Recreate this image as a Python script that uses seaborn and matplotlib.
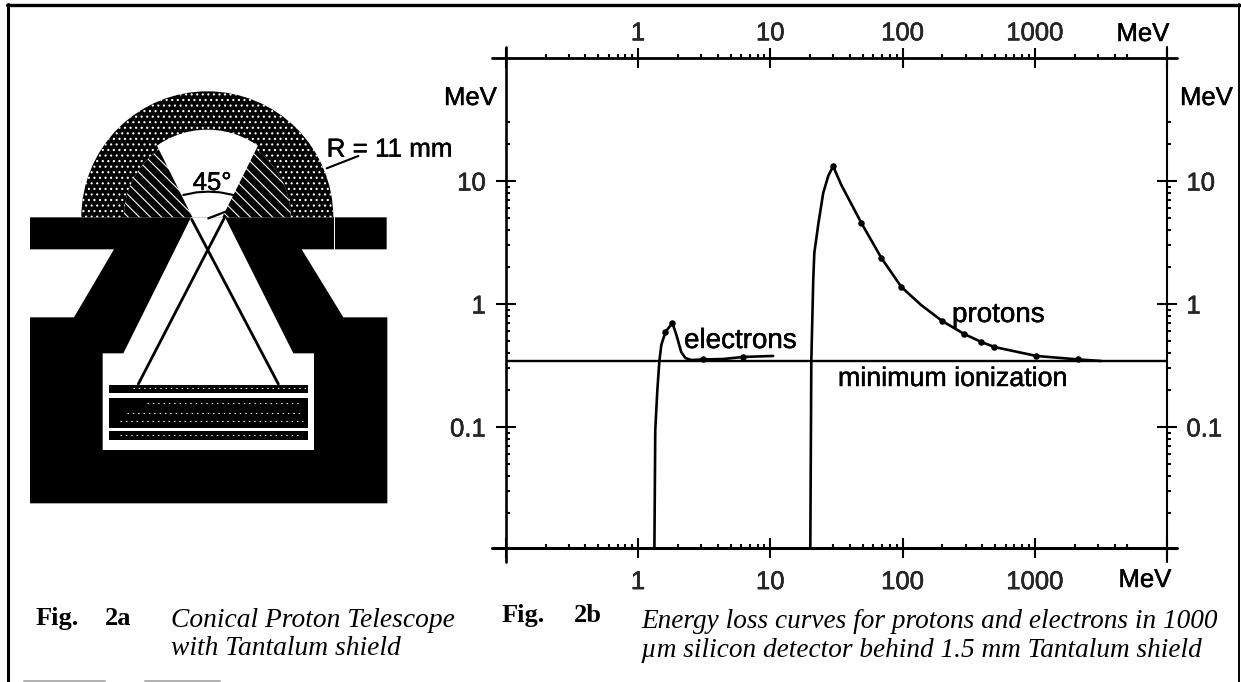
import pandas as pd
import matplotlib
matplotlib.use("Agg")
import matplotlib.pyplot as plt
import matplotlib.patheffects as pe
from matplotlib.patches import Polygon, Wedge
import seaborn as sns

# curve readings (MeV, MeV)
proton_energy = [20.05, 20.4, 21.1, 21.5, 23.1, 25.1, 27.4, 29.8, 34.4, 48.8, 69, 97.8, 138, 199, 292, 393, 493, 1025, 2130, 3170]
proton_loss = [0.0105, 0.344, 1.57, 2.6, 4.55, 8.0, 11.0, 13.2, 9.28, 4.55, 2.37, 1.375, 0.98, 0.727, 0.57, 0.491, 0.447, 0.378, 0.354, 0.344]
proton_pts_energy = [29.8, 48.8, 69, 97.8, 199, 292, 393, 493, 1025, 2130]
proton_pts_loss = [13.2, 4.55, 2.37, 1.375, 0.727, 0.57, 0.491, 0.447, 0.378, 0.354]

electron_energy = [1.33, 1.35, 1.40, 1.45, 1.50, 1.61, 1.82, 1.95, 2.12, 2.28, 2.53, 3.12, 4.42, 6.25, 10.5]
electron_loss = [0.0105, 0.0946, 0.2, 0.344, 0.464, 0.592, 0.70, 0.56, 0.407, 0.364, 0.35, 0.354, 0.357, 0.371, 0.378]
electron_pts_energy = [1.61, 1.82, 3.12, 6.25]
electron_pts_loss = [0.592, 0.70, 0.354, 0.371]

min_ionization = 0.344

# axis ticks
x_ticks = [0.1, 1, 10, 100, 1000, 10000]
x_tick_labels = ["", "1", "10", "100", "1000", ""]
x_minor = [m * d for d in (0.1, 1, 10, 100) for m in range(2, 10)] + [2000, 3000, 4000, 5000]
y_ticks = [0.1, 1, 10]
y_tick_labels = ["0.1", "1", "10"]
y_minor = [m * d for d in (0.01, 0.1, 1) for m in range(2, 10)] + [20, 30]

FONT = "Liberation Sans"
SERIF = "Liberation Serif"
TICK_SIZE = 18.5

sns.set_theme(style="white")
plt.rcParams["font.family"] = [FONT, "DejaVu Sans"]
plt.rcParams["hatch.linewidth"] = 0.8

fig = plt.figure(figsize=(12.41, 6.82), dpi=100, facecolor="white")
W, H = 1241, 682


def thick(w=0.35):
    return [pe.withStroke(linewidth=w, foreground="black")]


# --- Fig. 2b, energy loss plot ---
L, R, T, B = 505.7, 1167.3, 57.5, 547.5
ax = fig.add_axes([L / W, 1 - B / H, (R - L) / W, (B - T) / H])
ax.set_xscale("log")
ax.set_yscale("log")

protons = pd.DataFrame({"energy": proton_energy, "loss": proton_loss})
electrons = pd.DataFrame({"energy": electron_energy, "loss": electron_loss})
sns.lineplot(data=protons, x="energy", y="loss", sort=False, estimator=None, color="black", lw=1.9, ax=ax)
sns.lineplot(data=electrons, x="energy", y="loss", sort=False, estimator=None, color="black", lw=1.9, ax=ax)
sns.scatterplot(x=proton_pts_energy, y=proton_pts_loss, color="black", s=22, linewidth=0, ax=ax)
sns.scatterplot(x=electron_pts_energy, y=electron_pts_loss, color="black", s=22, linewidth=0, ax=ax)
ax.axhline(min_ionization, color="black", lw=1.7)

ax.set_xlim(0.1, 10000)
ax.set_ylim(0.01047, 101)
ax.set_xlabel("")
ax.set_ylabel("")

top = ax.twiny()
top.set_xscale("log")
top.set_xlim(ax.get_xlim())
right = ax.twinx()
right.set_yscale("log")
right.set_ylim(ax.get_ylim())

for axis, ticks, labels, minor in [
    (ax.xaxis, x_ticks, x_tick_labels, x_minor),
    (top.xaxis, x_ticks, x_tick_labels, x_minor),
    (ax.yaxis, y_ticks, y_tick_labels, y_minor),
    (right.yaxis, y_ticks, y_tick_labels, y_minor),
]:
    axis.set_ticks(ticks)
    axis.set_ticklabels(labels)
    axis.set_ticks(minor, minor=True)
    axis.set_ticklabels([], minor=True)

# minor ticks all point up / right, so inward on one side and outward on the other
ax.tick_params(which="major", direction="inout", length=14.5, width=1.5, labelsize=TICK_SIZE, color="black")
ax.tick_params(which="minor", direction="in", length=3, width=1.5, left=True, bottom=True, color="black")
ax.tick_params(axis="x", which="major", pad=9)
ax.tick_params(axis="y", which="major", pad=7)
top.tick_params(which="major", direction="inout", length=14.5, width=1.5, labelsize=TICK_SIZE, pad=1.5, color="black")
top.tick_params(which="minor", direction="out", length=3, width=1.5, top=True, color="black")
right.tick_params(which="major", direction="inout", length=14.5, width=1.5, labelsize=TICK_SIZE, pad=6.5, color="black")
right.tick_params(which="minor", direction="out", length=3, width=1.5, right=True, color="black")
for a in (ax, top, right):
    for s in a.spines.values():
        s.set_visible(False)
    for lab in a.get_xticklabels() + a.get_yticklabels():
        lab.set_path_effects(thick())

# --- overlay in picture pixels: frame, schematic, captions ---
ov = fig.add_axes([0, 0, 1, 1], zorder=5)
ov.set_xlim(0, W)
ov.set_ylim(H, 0)
ov.patch.set_alpha(0)
ov.set_axis_off()

# page frame
ov.plot([7, 1241], [4.7, 4.7], color="black", lw=2.4)
ov.plot([8, 8], [4, 682], color="black", lw=2.2)
ov.plot([1238.5, 1238.5], [4, 682], color="black", lw=1.4)
ov.plot([24, 105], [680.5, 680.5], color="#b0b0b0", lw=1.4)
ov.plot([145, 220], [680.5, 680.5], color="#b0b0b0", lw=1.4)

# plot frame, lines run past the corners
ov.plot([492, 1177], [58, 58], color="black", lw=2.0)
ov.plot([492, 1177], [547.5, 547.5], color="black", lw=2.2)
ov.plot([L, L], [47, 562], color="black", lw=1.9)
ov.plot([R, R], [47, 562], color="black", lw=1.5)


def zx(v):
    return v / 3


def zy(v):
    return 60 + v / 3


# schematic outline points
body = [(90, 472), (1160, 472), (1160, 568), (905, 568), (1030, 772), (1162, 772), (1162, 1330),
        (90, 1330), (90, 772), (222, 772), (342, 568), (90, 568)]
cavity = [(573, 472), (675, 472), (880, 880), (942, 880), (942, 1170), (308, 1170), (308, 880), (370, 880)]
sector = [(622, 562), (418, 150), (827, 150)]
detector_rows = [(975, 1000), (1013, 1103), (1113, 1140)]
ring_c = (zx(622), zy(472))


def to_px(points):
    return [(zx(x), zy(y)) for x, y in points]


ov.add_patch(Polygon(to_px(body), closed=True, fc="black", ec="none", zorder=2))
ov.add_patch(Polygon(to_px(cavity), closed=True, fc="white", ec="none", zorder=3))

# y runs downward here, so the upper half is 180..360
ov.add_patch(Wedge(ring_c, 378 / 3, 180, 360, width=128 / 3, fc="black", ec="white", hatch="...", lw=0, zorder=2))
ov.add_patch(Wedge(ring_c, 250 / 3, 180, 360, fc="black", ec="white", hatch="\\\\\\", lw=0, zorder=2))
cone = Polygon(to_px(sector), closed=True, fc="white", ec="none", zorder=3)
ov.add_patch(cone)
cone.set_clip_path(Wedge(ring_c, 263 / 3, 180, 360, transform=ov.transData))

# detector stack
for y0, y1 in detector_rows:
    ov.fill_between([zx(328), zx(925)], zy(y0), zy(y1), color="black", lw=0, zorder=4)
for yy, x0, x1 in [(985, 400, 920), (1030, 440, 900), (1058, 380, 910), (1082, 360, 910), (1126, 360, 900)]:
    ov.plot([zx(x0), zx(x1)], [zy(yy), zy(yy)], color="white", lw=0.7, ls=(0, (1.5, 4)), zorder=5)

# rays crossing in the aperture
ov.plot([zx(575), zx(835)], [zy(478), zy(972)], color="black", lw=2.0, zorder=6)
ov.plot([zx(675), zx(415)], [zy(470), zy(972)], color="black", lw=2.0, zorder=6)
ov.plot([zx(625), zx(690)], [zy(475), zy(450)], color="black", lw=1.6, zorder=6)
ov.plot([zx(1003), zx(1003)], [zy(472), zy(568)], color="white", lw=0.7, zorder=6)
ov.plot([zx(980), zx(1075)], [zy(325), zy(288)], color="black", lw=1.5, zorder=6)
ov.plot([zx(550), zx(590), zx(625), zx(660), zx(700)], [zy(405), zy(397), zy(395), zy(397), zy(405)],
        color="black", lw=1.5, zorder=6)


def label(x, y, s, size=TICK_SIZE, family=FONT, ha="left", **kw):
    return ov.text(x, y, s, fontsize=size, family=family, ha=ha, va="baseline", color="black", zorder=8, **kw)


label(zx(578), zy(390), "45°", path_effects=thick())
label(zx(980), zy(290), "R = 11 mm", 18.7, path_effects=thick())
label(684, 348, "electrons", 20, path_effects=thick())
label(952, 322, "protons", 20, path_effects=thick())
label(838, 386, "minimum ionization", 19.3, path_effects=thick())
label(444, 105, "MeV", path_effects=thick())
label(1180, 105, "MeV", path_effects=thick())
label(1143, 41, "MeV", ha="center", path_effects=thick())
label(1145, 587, "MeV", ha="center", path_effects=thick())

# captions
label(36, 625, "Fig.", 19, SERIF, weight="bold")
label(105, 625, "2a", 19, SERIF, weight="bold")
label(502, 622, "Fig.", 19, SERIF, weight="bold")
label(574, 622, "2b", 19, SERIF, weight="bold")
label(171, 627, "Conical Proton Telescope", 19.8, SERIF, style="italic")
label(171, 655, "with Tantalum shield", 19.8, SERIF, style="italic")
label(641, 628, "Energy loss curves for protons and electrons in 1000", 19.6, SERIF, style="italic")
label(641, 657, "µm silicon detector behind 1.5 mm Tantalum shield", 19.6, SERIF, style="italic")

fig.savefig("out.png", dpi=100)
